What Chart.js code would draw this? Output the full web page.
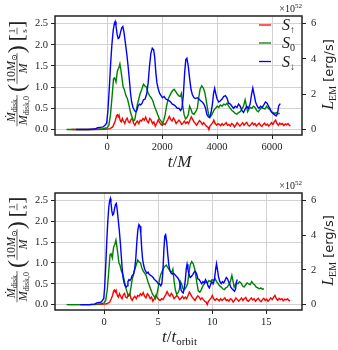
<!DOCTYPE html>
<html lang="en">
  <head>
    <meta charset="UTF-8" />
    <title>Disk accretion rate and EM luminosity</title>
    <style>
      body {
        margin: 0;
        padding: 0;
        background-color: #fff;
      }
      .panel {
        width: 338px;
        height: 175px;
      }
    </style>
  </head>
  <body>
    <div class="panel"><canvas id="top-chart" width="338" height="175"></canvas></div>
    <div class="panel"><canvas id="bottom-chart" width="338" height="175"></canvas></div>

    <script src="https://cdn.jsdelivr.net/npm/chart.js"></script>
    <script>
      // time in units of M, accretion rate in (10 Msun / M) 1/s
      var tUp = [-1300, -400, -100, 0, 100, 200, 260, 300, 340, 370, 400, 430, 470, 510, 550, 590, 640, 690, 730, 770, 820, 870, 920, 960, 1010, 1050, 1100, 1150, 1200, 1250, 1300, 1350, 1400, 1450, 1500, 1550, 1600, 1650, 1700, 1750, 1800, 1860, 1910, 1960, 2010, 2060, 2110, 2160, 2210, 2260, 2310, 2360, 2410, 2460, 2510, 2560, 2610, 2660, 2710, 2760, 2810, 2860, 2910, 2960, 3010, 3060, 3110, 3160, 3210, 3260, 3310, 3360, 3410, 3460, 3510, 3560, 3610, 3660, 3700, 3740, 3790, 3840, 3880, 3930, 3980, 4030, 4080, 4130, 4180, 4230, 4280, 4330, 4380, 4430, 4480, 4530, 4580, 4630, 4680, 4730, 4780, 4830, 4880, 4930, 4980, 5030, 5080, 5130, 5180, 5230, 5280, 5330, 5380, 5430, 5480, 5530, 5580, 5630, 5680, 5730, 5780, 5830, 5880, 5930, 5980, 6030, 6080, 6130, 6180, 6230, 6280, 6330, 6380, 6430, 6480, 6530, 6580, 6630, 6670];
      var mdotUp = [0, 0, 0.005, 0.01, 0.02, 0.06, 0.15, 0.22, 0.33, 0.35, 0.3, 0.34, 0.22, 0.18, 0.26, 0.2, 0.14, 0.24, 0.27, 0.18, 0.16, 0.24, 0.26, 0.15, 0.1, 0.16, 0.2, 0.14, 0.22, 0.2, 0.26, 0.22, 0.29, 0.2, 0.16, 0.26, 0.22, 0.14, 0.18, 0.08, 0.14, 0.23, 0.16, 0.12, 0.1, 0.14, 0.12, 0.18, 0.24, 0.31, 0.24, 0.2, 0.27, 0.22, 0.14, 0.18, 0.22, 0.18, 0.12, 0.15, 0.2, 0.14, 0.18, 0.14, 0.22, 0.3, 0.24, 0.18, 0.14, 0.1, 0.16, 0.21, 0.18, 0.12, 0.16, 0.12, 0.08, 0.06, 0.0, 0.08, 0.12, 0.16, 0.22, 0.14, 0.1, 0.14, 0.12, 0.09, 0.14, 0.1, 0.13, 0.16, 0.1, 0.12, 0.08, 0.14, 0.12, 0.06, 0.1, 0.16, 0.12, 0.08, 0.12, 0.16, 0.1, 0.14, 0.17, 0.1, 0.08, 0.12, 0.16, 0.11, 0.14, 0.08, 0.12, 0.15, 0.1, 0.07, 0.12, 0.15, 0.1, 0.13, 0.08, 0.12, 0.16, 0.12, 0.18, 0.22, 0.14, 0.1, 0.15, 0.12, 0.14, 0.09, 0.13, 0.11, 0.14, 0.1, 0.08];

      var tZero = [-1480, -600, -300, -150, 0, 60, 120, 180, 230, 270, 320, 370, 420, 462, 500, 540, 580, 620, 680, 740, 800, 850, 900, 950, 1000, 1050, 1100, 1150, 1200, 1260, 1320, 1380, 1430, 1480, 1540, 1600, 1660, 1720, 1780, 1840, 1900, 1960, 2010, 2060, 2110, 2160, 2220, 2280, 2340, 2400, 2440, 2490, 2540, 2600, 2660, 2700, 2750, 2800, 2850, 2900, 2950, 3000, 3050, 3100, 3160, 3220, 3280, 3330, 3380, 3440, 3500, 3550, 3600, 3650, 3700, 3760, 3820, 3880, 3940, 4000, 4060, 4120, 4180, 4240, 4300, 4360, 4420, 4480, 4540, 4600, 4660, 4720, 4780, 4840, 4900, 4960, 5020, 5070, 5110, 5160, 5210, 5260, 5320, 5380, 5440, 5500, 5560, 5620, 5680, 5740, 5800, 5860, 5920, 5980, 6040, 6100, 6160, 6220, 6280];
      var mdotZero = [0, 0, 0.01, 0.02, 0.04, 0.1, 0.35, 0.8, 1.2, 1.22, 1.12, 1.38, 1.45, 1.55, 1.4, 1.2, 1.0, 0.95, 0.8, 0.72, 0.55, 0.4, 0.3, 0.2, 0.22, 0.4, 0.6, 0.72, 0.85, 0.95, 1.07, 1.02, 1.0, 0.88, 0.8, 0.75, 0.68, 0.55, 0.45, 0.35, 0.25, 0.2, 0.14, 0.22, 0.35, 0.55, 0.72, 0.8, 0.88, 0.93, 0.95, 0.9, 0.85, 0.8, 0.78, 0.85, 0.55, 0.35, 0.25, 0.28, 0.35, 0.55, 0.48, 0.38, 0.36, 0.42, 0.5, 0.75, 0.95, 1.03, 0.98, 0.88, 0.7, 0.5, 0.33, 0.3, 0.36, 0.45, 0.5, 0.55, 0.52, 0.58, 0.55, 0.6, 0.58, 0.62, 0.55, 0.5, 0.45, 0.42, 0.38, 0.36, 0.4, 0.42, 0.48, 0.55, 0.7, 0.55, 0.42, 0.48, 0.52, 0.5, 0.55, 0.52, 0.45, 0.42, 0.47, 0.52, 0.5, 0.48, 0.55, 0.5, 0.47, 0.42, 0.4, 0.38, 0.4, 0.37, 0.38];

      var tDown = [-1130, -700, -450, -350, -250, -150, -80, -20, 20, 70, 120, 170, 220, 260, 290, 320, 360, 400, 440, 480, 530, 570, 610, 660, 710, 760, 810, 850, 890, 940, 990, 1040, 1080, 1120, 1170, 1220, 1270, 1320, 1380, 1440, 1490, 1540, 1590, 1640, 1690, 1730, 1770, 1810, 1860, 1910, 1960, 2010, 2070, 2130, 2190, 2250, 2310, 2370, 2430, 2490, 2550, 2610, 2670, 2720, 2770, 2820, 2860, 2900, 2950, 3000, 3050, 3100, 3160, 3220, 3280, 3340, 3400, 3460, 3520, 3580, 3630, 3680, 3730, 3780, 3830, 3870, 3910, 3950, 4000, 4060, 4120, 4180, 4240, 4300, 4360, 4420, 4480, 4540, 4600, 4660, 4720, 4780, 4840, 4900, 4960, 5020, 5080, 5140, 5200, 5260, 5300, 5350, 5400, 5460, 5520, 5580, 5640, 5700, 5760, 5820, 5870, 5920, 5970, 6030, 6090, 6150, 6200, 6240, 6280, 6310];
      var mdotDown = [0, 0, 0.01, 0.04, 0.05, 0.06, 0.1, 0.15, 0.4, 0.9, 1.5, 2.0, 2.35, 2.5, 2.55, 2.45, 2.25, 2.15, 2.17, 2.28, 2.4, 2.43, 2.3, 2.05, 1.8, 1.5, 1.15, 0.85, 0.65, 0.52, 0.45, 0.42, 0.45, 0.55, 0.6, 0.58, 0.62, 0.7, 0.72, 0.85, 1.1, 1.5, 1.8, 1.92, 1.88, 1.7, 1.35, 1.1, 0.95, 0.85, 0.8, 0.75, 0.78, 0.72, 0.7, 0.68, 0.65, 0.6, 0.58, 0.55, 0.5, 0.5, 0.45, 0.5, 0.8, 1.35, 1.65, 1.68, 1.5, 1.2, 0.95, 0.82, 0.75, 0.73, 0.75, 0.72, 0.68, 0.65, 0.6, 0.5, 0.35, 0.3, 0.28, 0.4, 0.6, 0.85, 0.97, 0.85, 0.72, 0.65, 0.68, 0.72, 0.78, 0.8, 0.74, 0.62, 0.6, 0.55, 0.5, 0.55, 0.52, 0.6, 0.55, 0.45, 0.4, 0.48, 0.55, 0.5, 0.6, 0.85, 0.98, 0.82, 0.65, 0.55, 0.5, 0.55, 0.52, 0.58, 0.65, 0.62, 0.55, 0.5, 0.42, 0.38, 0.35, 0.32, 0.38, 0.55, 0.6, 0.6];

      // orbital period of each run, in M
      var tOrbitUp = 388;
      var tOrbitZero = 425;
      var tOrbitDown = 510;

      var seriesSubs = ["\u2191", "0", "\u2193"];
      var yTicks = [0, 0.5, 1, 1.5, 2, 2.5];
      var lemTicks = [0, 2, 4, 6];
      var xTicksM = [0, 2000, 4000, 6000];
      var xTicksOrbit = [0, 5, 10, 15];
      var lemPerMdot = 2.4; // 1e52 erg/s per unit of Mdot

      var colUp = "#ff0000";
      var colZero = "#008000";
      var colDown = "#0000ff";
      var ink = "#222";
      var serif = '"Liberation Serif", "DejaVu Serif", serif';
      var tickFont = { family: serif, size: 10.5 };

      function makePoints(ts, vs, tOrbit) {
        return ts.map(function (t, i) {
          return { x: t / tOrbit, y: vs[i] };
        });
      }

      function setTicks(list) {
        return function (scale) {
          scale.ticks = list.map(function (v) {
            return { value: v };
          });
        };
      }

      function drawParts(ctx, parts, x, y) {
        parts.forEach(function (p) {
          ctx.font = p.font;
          ctx.fillText(p.text, x, y + (p.dy || 0));
          x += ctx.measureText(p.text).width;
        });
        return x;
      }

      function partsWidth(ctx, parts) {
        var w = 0;
        parts.forEach(function (p) {
          ctx.font = p.font;
          w += ctx.measureText(p.text).width;
        });
        return w;
      }

      var mainF = "italic 12px " + serif;
      var romF = "12px " + serif;
      var subF = "8px " + serif;

      function fracWidth(ctx, f) {
        return Math.max(partsWidth(ctx, f.num), partsWidth(ctx, f.den)) + 2;
      }

      function drawFrac(ctx, f, x) {
        var w = fracWidth(ctx, f);
        var nw = partsWidth(ctx, f.num);
        var dw = partsWidth(ctx, f.den);
        drawParts(ctx, f.num, x + (w - nw) / 2, -2.5);
        drawParts(ctx, f.den, x + (w - dw) / 2, 9.5);
        ctx.beginPath();
        ctx.moveTo(x, 0);
        ctx.lineTo(x + w, 0);
        ctx.lineWidth = 0.7;
        ctx.stroke();
        return x + w;
      }

      function drawLeftTitle(ctx, cx, cy) {
        var fracA = {
          num: [{ text: "\u1E40", font: mainF }, { text: "disk", font: subF, dy: 2 }],
          den: [{ text: "M", font: mainF }, { text: "disk,0", font: subF, dy: 2 }]
        };
        var fracB = {
          num: [{ text: "10", font: romF }, { text: "M", font: mainF }, { text: "\u2299", font: subF, dy: 2 }],
          den: [{ text: "M", font: mainF }]
        };
        var fracC = {
          num: [{ text: "1", font: "9px " + serif }],
          den: [{ text: "s", font: "9px " + serif }]
        };
        var parenF = "24px " + serif;
        var brF = "21px " + serif;
        ctx.save();
        ctx.translate(cx, cy);
        ctx.rotate(-Math.PI / 2);
        ctx.fillStyle = ink;
        ctx.strokeStyle = ink;
        ctx.textBaseline = "alphabetic";
        ctx.font = parenF;
        var pw = ctx.measureText("(").width;
        ctx.font = brF;
        var bw = ctx.measureText("[").width;
        var total = fracWidth(ctx, fracA) + 3 + 2 * pw + fracWidth(ctx, fracB) + 4 + 2 * bw + fracWidth(ctx, fracC);
        var x = -total / 2;
        x = drawFrac(ctx, fracA, x) + 3;
        ctx.font = parenF;
        ctx.fillText("(", x, 7);
        x += pw;
        x = drawFrac(ctx, fracB, x);
        ctx.font = parenF;
        ctx.fillText(")", x, 7);
        x += pw + 4;
        ctx.font = brF;
        ctx.fillText("[", x, 6);
        x += bw;
        x = drawFrac(ctx, fracC, x);
        ctx.font = brF;
        ctx.fillText("]", x, 6);
        ctx.restore();
      }

      var decor = {
        id: "decor",
        afterDraw: function (chart, args, opts) {
          var ctx = chart.ctx;
          var a = chart.chartArea;
          ctx.save();
          // frame
          ctx.strokeStyle = ink;
          ctx.lineWidth = 1.5;
          ctx.strokeRect(a.left, a.top, a.right - a.left, a.bottom - a.top);

          drawLeftTitle(ctx, 17, (a.top + a.bottom) / 2 - 2);

          // right title
          ctx.save();
          ctx.translate(328, (a.top + a.bottom) / 2 - 1);
          ctx.rotate(-Math.PI / 2);
          ctx.fillStyle = ink;
          var rparts = [
            { text: "L", font: "italic 16px " + serif },
            { text: "EM", font: "10px " + serif, dy: 3 },
            { text: " [erg/s]", font: '13px "DejaVu Sans", sans-serif' }
          ];
          drawParts(ctx, rparts, -partsWidth(ctx, rparts) / 2, 5);
          ctx.restore();

          // multiplier of the right axis
          ctx.fillStyle = ink;
          var mparts = [
            { text: "\u00D710", font: "10px " + serif },
            { text: "52", font: "7px " + serif, dy: -4 }
          ];
          drawParts(ctx, mparts, a.right - partsWidth(ctx, mparts), a.top - 4);

          // x title
          var xparts = opts.orbit
            ? [
                { text: "t", font: "italic 17px " + serif },
                { text: "/", font: "17px " + serif },
                { text: "t", font: "italic 17px " + serif },
                { text: "orbit", font: "11px " + serif, dy: 3 }
              ]
            : [
                { text: "t", font: "italic 17px " + serif },
                { text: "/", font: "17px " + serif },
                { text: "M", font: "italic 17px " + serif }
              ];
          drawParts(ctx, xparts, (a.left + a.right) / 2 - partsWidth(ctx, xparts) / 2 + 1, 167);

          // legend
          if (opts.legend) {
            var cols = [colUp, colZero, colDown];
            var rows = [25, 43, 61.5];
            for (var i = 0; i < 3; i++) {
              ctx.strokeStyle = cols[i];
              ctx.lineWidth = 1.3;
              ctx.beginPath();
              ctx.moveTo(259, rows[i]);
              ctx.lineTo(271, rows[i]);
              ctx.stroke();
              ctx.fillStyle = ink;
              drawParts(ctx, [
                { text: "S", font: "italic 16px " + serif },
                { text: seriesSubs[i], font: "10px " + serif, dy: 3 }
              ], 282, rows[i] + 5);
            }
          }
          ctx.restore();
        }
      };

      function buildChart(id, orbit) {
        var xTicks = orbit ? xTicksOrbit : xTicksM;
        var yMin = -0.13;
        var yMax = 2.68;
        return new Chart(document.getElementById(id), {
          type: "line",
          data: {
            datasets: [
              {
                label: "S" + seriesSubs[2],
                data: makePoints(tDown, mdotDown, orbit ? tOrbitDown : 1),
                borderColor: colDown,
                order: 1
              },
              {
                label: "S" + seriesSubs[1],
                data: makePoints(tZero, mdotZero, orbit ? tOrbitZero : 1),
                borderColor: colZero,
                order: 2
              },
              {
                label: "S" + seriesSubs[0],
                data: makePoints(tUp, mdotUp, orbit ? tOrbitUp : 1),
                borderColor: colUp,
                order: 3
              }
            ]
          },
          options: {
            responsive: false,
            animation: false,
            elements: {
              line: { borderWidth: 1.4, tension: 0, fill: false },
              point: { radius: 0 }
            },
            layout: { padding: { top: orbit ? 18 : 16, left: 0, right: 0, bottom: 0 } },
            plugins: {
              legend: { display: false },
              tooltip: { enabled: false },
              decor: { orbit: orbit, legend: !orbit }
            },
            scales: {
              x: {
                type: "linear",
                min: orbit ? -4.55 : -1900,
                max: orbit ? 18.3 : 7090,
                afterBuildTicks: setTicks(xTicks),
                afterFit: function (s) {
                  s.height = 40;
                },
                border: { display: false },
                grid: { color: "#d2d2d2", tickLength: 4, tickColor: ink },
                ticks: {
                  font: tickFont,
                  color: ink,
                  padding: 2,
                  maxRotation: 0,
                  callback: function (v) {
                    return String(v);
                  }
                }
              },
              y: {
                position: "left",
                min: yMin,
                max: yMax,
                afterBuildTicks: setTicks(yTicks),
                afterFit: function (s) {
                  s.width = 55;
                },
                border: { display: false },
                grid: { color: "#d2d2d2", tickLength: 4, tickColor: ink },
                ticks: {
                  font: tickFont,
                  color: ink,
                  padding: 3,
                  callback: function (v) {
                    return v.toFixed(1);
                  }
                }
              },
              y2: {
                position: "right",
                min: yMin * lemPerMdot,
                max: yMax * lemPerMdot,
                afterBuildTicks: setTicks(lemTicks),
                afterFit: function (s) {
                  s.width = 36;
                },
                border: { display: false },
                grid: { drawOnChartArea: false, tickLength: 4, tickColor: ink },
                ticks: {
                  font: tickFont,
                  color: ink,
                  padding: 5,
                  callback: function (v) {
                    return String(v);
                  }
                }
              }
            }
          },
          plugins: [decor]
        });
      }

      buildChart("top-chart", false);
      buildChart("bottom-chart", true);
    </script>
  </body>
</html>
